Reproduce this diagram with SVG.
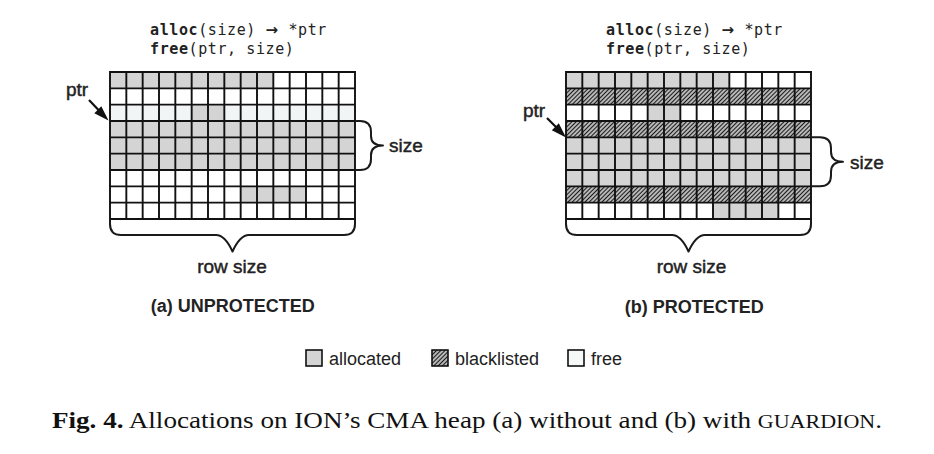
<svg xmlns="http://www.w3.org/2000/svg" width="934" height="454" viewBox="0 0 934 454">
<style>
  .code { font-family: "DejaVu Sans Mono", "Liberation Mono", monospace; font-size: 15px; letter-spacing: 0.6px; fill: #222; }
  .code .b { font-weight: bold; }
  .code .arr { font-family: "DejaVu Sans", sans-serif; font-weight: bold; }
  .lbl { font-family: "Liberation Sans", Arial, sans-serif; font-size: 19px; fill: #222; stroke: #222; stroke-width: 0.45px; }
  .title { font-family: "Liberation Sans", Arial, sans-serif; font-size: 18px; font-weight: bold; fill: #222; }
  .leg { font-family: "Liberation Sans", Arial, sans-serif; font-size: 18px; fill: #222; }
  .cap { font-family: "Liberation Serif", "Times New Roman", serif; font-size: 24px; fill: #111; }
  .alloc { fill: #d4d4d4; }
  .black { fill: url(#hatch); }
  .tint { fill: #f1f5f6; }
  .grid { fill: none; stroke: #111; stroke-width: 1.9px; }
  .brace { fill: none; stroke: #1a1a1a; stroke-width: 2px; stroke-linejoin: round; }
  .arrow { stroke: #111; stroke-width: 2.2px; fill: none; }
  .head { fill: #111; }
</style>
<defs>
  <pattern id="hatch" patternUnits="userSpaceOnUse" width="3" height="3" patternTransform="rotate(45)">
    <rect width="3" height="3" fill="#d8d8d8"/>
    <line x1="1.5" y1="0" x2="1.5" y2="3" stroke="#1a1a1a" stroke-width="1.35"/>
  </pattern>
  <path id="gridlines" d="M110,72 H355 V219 H110 Z
    M110,88.33 H355 M110,104.67 H355 M110,121 H355 M110,137.33 H355 M110,153.67 H355 M110,170 H355 M110,186.33 H355 M110,202.67 H355
    M126.33,72 V219 M142.67,72 V219 M159,72 V219 M175.33,72 V219 M191.67,72 V219 M208,72 V219 M224.33,72 V219 M240.67,72 V219 M257,72 V219 M273.33,72 V219 M289.67,72 V219 M306,72 V219 M322.33,72 V219 M338.67,72 V219"/>
</defs>
<rect width="934" height="454" fill="#fff"/>

<!-- (a) UNPROTECTED -->
<g id="heap-unprotected">
  <text class="code" x="150" y="35"><tspan class="b">alloc</tspan>(size) <tspan class="arr">→</tspan> *ptr</text>
  <text class="code" x="150" y="54"><tspan class="b">free</tspan>(ptr, size)</text>
  <rect class="alloc" x="110" y="72" width="163.33" height="16.33"/>
  <rect class="tint" x="110" y="104.67" width="245" height="16.33"/>
  <rect class="alloc" x="191.67" y="104.67" width="32.67" height="16.33"/>
  <rect class="alloc" x="110" y="121" width="245" height="49"/>
  <rect class="alloc" x="240.67" y="186.33" width="65.33" height="16.33"/>
  <use href="#gridlines" class="grid"/>
  <text class="lbl" x="66" y="96">ptr</text>
  <path class="brace" d="M355,121 h5 q11,0 11,11 v4 q0,9.5 12,9.5 q-12,0 -12,9.5 v4 q0,11 -11,11 h-5"/>
  <text class="lbl" x="389" y="152">size</text>
  <path class="brace" d="M110,219 v5 q0,11 11,11 h95 q9,0 16.5,16.5 q7.5,-16.5 16.5,-16.5 h95 q11,0 11,-11 v-5"/>
  <text class="lbl" x="232" y="273" text-anchor="middle">row size</text>
  <text class="title" x="232.7" y="312" text-anchor="middle">(a) UNPROTECTED</text>
</g>

<!-- (b) PROTECTED -->
<g id="heap-protected">
  <text class="code" x="606" y="35"><tspan class="b">alloc</tspan>(size) <tspan class="arr">→</tspan> *ptr</text>
  <text class="code" x="606" y="54"><tspan class="b">free</tspan>(ptr, size)</text>
  <rect class="alloc" x="566" y="72" width="163.33" height="16.33"/>
  <rect class="black" x="566" y="88.33" width="245" height="16.33"/>
  <rect class="alloc" x="647.67" y="104.67" width="32.67" height="16.33"/>
  <rect class="black" x="566" y="121" width="245" height="16.33"/>
  <rect class="alloc" x="566" y="137.33" width="245" height="49"/>
  <rect class="black" x="566" y="186.33" width="245" height="16.33"/>
  <rect class="alloc" x="713" y="202.67" width="65.33" height="16.33"/>
  <use href="#gridlines" class="grid" transform="translate(456,0)"/>
  <text class="lbl" x="523" y="117">ptr</text>
  <path class="brace" d="M811,137.33 h9 q11,0 11,11 v3.5 q0,10 12,10 q-12,0 -12,10 v3.5 q0,11 -11,11 h-9"/>
  <text class="lbl" x="850" y="169">size</text>
  <path class="brace" d="M566,219 v5 q0,11 11,11 h95 q9,0 16.5,16.5 q7.5,-16.5 16.5,-16.5 h95 q11,0 11,-11 v-5"/>
  <text class="lbl" x="691.5" y="273" text-anchor="middle">row size</text>
  <text class="title" x="694.3" y="313" text-anchor="middle">(b) PROTECTED</text>
</g>

<!-- connectors: ptr arrows -->
<g id="connectors">
  <line class="arrow" x1="89" y1="100" x2="99" y2="110.5"/>
  <polygon class="head" points="108.5,120.5 94.3,113.3 101.3,106.3"/>
  <line class="arrow" x1="547" y1="118" x2="557" y2="128"/>
  <polygon class="head" points="566,137.5 551.8,130.3 558.8,123.3"/>
</g>

<!-- legend -->
<g id="legend">
  <rect x="306" y="350" width="16" height="16" fill="#d4d4d4" stroke="#111" stroke-width="1.6"/>
  <text class="leg" x="329" y="365">allocated</text>
  <rect x="432" y="350" width="16" height="16" fill="url(#hatch)" stroke="#111" stroke-width="1.6"/>
  <text class="leg" x="455" y="365">blacklisted</text>
  <rect x="568" y="350" width="16" height="16" fill="#f6f8f8" stroke="#111" stroke-width="1.6"/>
  <text class="leg" x="591" y="365">free</text>
</g>

<!-- caption -->
<text class="cap" x="52" y="428" textLength="830" lengthAdjust="spacingAndGlyphs"><tspan font-weight="bold">Fig. 4.</tspan> Allocations on ION’s CMA heap (a) without and (b) with <tspan font-size="19.5px">GUARDION</tspan>.</text>
</svg>
